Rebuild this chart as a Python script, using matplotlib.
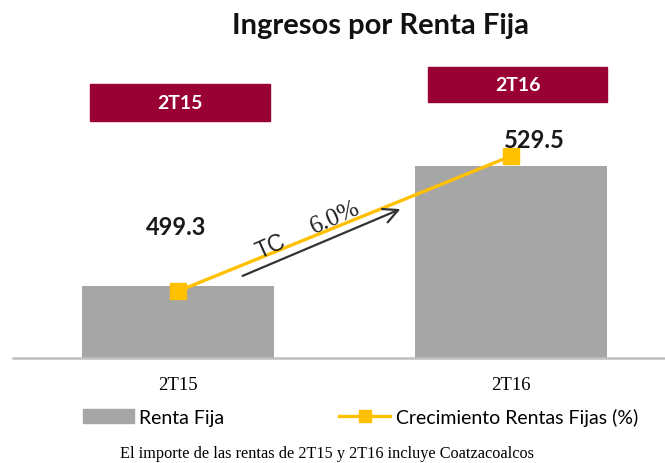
import matplotlib
matplotlib.use("Agg")
import matplotlib.pyplot as plt
from matplotlib.patches import Rectangle, Patch
from matplotlib.lines import Line2D

# datos
periodos = ["2T15", "2T16"]
renta_fija = [499.3, 529.5]
crecimiento = [498.0, 532.0]
tasa_crecimiento = "6.0%"

gris = "#A6A6A6"
amarillo = "#FFC000"
vino = "#990033"

W, H = 665, 464
fig = plt.figure(figsize=(W / 100, H / 100), dpi=100)

def fx(px):
    return px / W

def fy(py):
    return 1 - py / H

# ejes: linea base en y=359, desde x=13 hasta el borde derecho
ax = fig.add_axes([fx(13), fy(359), fx(652), (359 - 60) / H])

x = [0, 1]
ax.bar(x, renta_fija, width=0.574, color=gris, zorder=2)
ax.plot(x, crecimiento, color=amarillo, lw=2.4, marker="s", ms=11,
        mec=amarillo, mfc=amarillo, zorder=3)

ax.set_xlim(-0.4955, 1.4625)
ax.set_ylim(481.18, 556.43)

for s in ["top", "right", "left"]:
    ax.spines[s].set_visible(False)
ax.spines["bottom"].set_color("#BFBFBF")
ax.spines["bottom"].set_linewidth(1.8)
ax.set_yticks([])
ax.set_xticks(x)
ax.set_xticklabels(periodos, family="Liberation Serif", fontsize=13.5)
ax.tick_params(axis="x", length=0, pad=13)

# etiquetas de valor
ax.annotate(f"{renta_fija[0]:.1f}", (x[0], renta_fija[0]), xytext=(-1, 43),
            textcoords="offset points", ha="center", va="center",
            family="Lato", fontweight="bold", fontsize=17, color="#1a1a1a")
ax.annotate(f"{renta_fija[1]:.1f}", (x[1], renta_fija[1]), xytext=(17, 19),
            textcoords="offset points", ha="center", va="center",
            family="Lato", fontweight="bold", fontsize=17, color="#1a1a1a")

# flecha de tasa de crecimiento
ax.annotate("", xy=((403 - 13) / 652, (359 - 209) / 299),
            xytext=((240 - 13) / 652, (359 - 278) / 299),
            xycoords="axes fraction", textcoords="axes fraction",
            arrowprops=dict(arrowstyle="->", color="#333333", lw=1.6,
                            mutation_scale=26))
fig.text(fx(271), fy(247), "TC", rotation=24, ha="center", va="center",
         family="Liberation Sans", fontsize=16.5, color="#222222")
fig.text(fx(335), fy(218), tasa_crecimiento, rotation=24, ha="center",
         va="center", family="Liberation Serif", fontsize=18, color="#222222")

# recuadros de periodo
cajas = [(90, 85, 180, 37), (428, 68, 179, 35)]
for (bx, by, bw, bh), lab in zip(cajas, periodos):
    fig.patches.append(Rectangle((fx(bx), fy(by + bh)), bw / W, bh / H,
                                 transform=fig.transFigure, color=vino,
                                 zorder=1))
    fig.text(fx(bx + bw / 2), fy(by + bh / 2), lab, ha="center", va="center",
             family="Lato", fontweight="bold", fontsize=14, color="white")

# titulo
fig.text(fx(380), fy(26), "Ingresos por Renta Fija", ha="center",
         va="center", family="Lato", fontweight="bold", fontsize=21,
         color="#111111")

# leyenda
handles = [Patch(color=gris, label="Renta Fija"),
           Line2D([], [], color=amarillo, lw=2.4, marker="s", ms=9,
                  label="Crecimiento Rentas Fijas (%)")]
fig.legend(handles=handles, loc="center left",
           bbox_to_anchor=(fx(83), fy(418)), ncol=2, frameon=False,
           borderpad=0, borderaxespad=0, handlelength=2.6,
           handletextpad=0.3, columnspacing=5.9,
           prop={"family": "Lato", "size": 14})

fig.text(fx(327), fy(454), "El importe de las rentas de 2T15 y 2T16 incluye Coatzacoalcos",
         ha="center", va="center", family="Liberation Serif", fontsize=11.7)

fig.savefig("out.png", dpi=100)
